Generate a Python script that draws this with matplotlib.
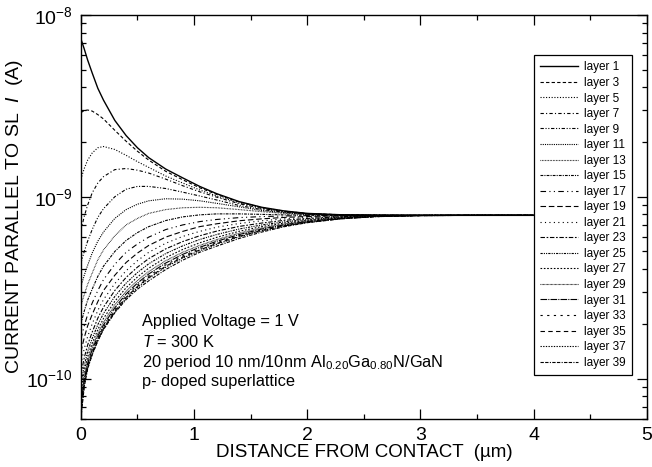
import numpy as np
import matplotlib
matplotlib.use("Agg")
import matplotlib.pyplot as plt
from matplotlib.ticker import MultipleLocator, FixedLocator, NullFormatter

plt.rcParams['font.family'] = ['Liberation Sans', 'DejaVu Sans']
plt.rcParams['mathtext.fontset'] = 'custom'
plt.rcParams['mathtext.rm'] = 'Liberation Sans'
plt.rcParams['mathtext.it'] = 'Liberation Sans:italic'
plt.rcParams['mathtext.bf'] = 'Liberation Sans:bold'
plt.rcParams['axes.unicode_minus'] = False

# distance from contact (um)
x = [0, 0.03, 0.06, 0.1, 0.15, 0.2, 0.3, 0.4, 0.5, 0.6, 0.75, 0.9,
     1.05, 1.2, 1.4, 1.6, 1.8, 2.0, 2.3, 2.6, 3.0, 3.5, 4.0]

# current in each layer, units of 1e-10 A
layer_1  = [74, 65, 56.5, 48, 39.5, 34, 26.3, 21.7, 18.6, 16.4, 14.2, 12.7,
            11.4, 10.4, 9.4, 8.75, 8.35, 8.1, 7.96, 7.92, 7.9, 7.9, 7.9]
layer_3  = [29, 29.8, 30, 29.6, 28.3, 26.8, 23.2, 20.2, 17.8, 15.9, 13.8, 12.4,
            11.2, 10.3, 9.35, 8.72, 8.33, 8.09, 7.96, 7.92, 7.9, 7.9, 7.9]
layer_5  = [12.5, 14.3, 15.9, 17.4, 18.6, 18.9, 18.2, 16.9, 15.6, 14.5, 13.0, 11.9,
            10.9, 10.1, 9.25, 8.67, 8.3, 8.07, 7.95, 7.91, 7.9, 7.9, 7.9]
layer_7  = [6.5, 7.8, 9.0, 10.5, 11.9, 12.9, 14.1, 14.3, 14.0, 13.5, 12.5, 11.5,
            10.65, 9.95, 9.15, 8.62, 8.27, 8.05, 7.95, 7.91, 7.9, 7.9, 7.9]
layer_9  = [4.3, 5.0, 5.7, 6.6, 7.7, 8.6, 10.0, 11.0, 11.4, 11.4, 11.1, 10.6,
            10.1, 9.6, 8.95, 8.5, 8.22, 8.03, 7.94, 7.91, 7.9, 7.9, 7.9]
layer_11 = [3.2, 3.7, 4.2, 4.9, 5.7, 6.4, 7.6, 8.5, 9.1, 9.5, 9.75, 9.7,
            9.5, 9.2, 8.8, 8.4, 8.17, 8.0, 7.93, 7.91, 7.9, 7.9, 7.9]
layer_13 = [2.5, 2.9, 3.3, 3.8, 4.5, 5.1, 6.1, 7.0, 7.6, 8.1, 8.5, 8.7,
            8.75, 8.7, 8.5, 8.28, 8.1, 7.98, 7.92, 7.9, 7.9, 7.9, 7.9]
layer_15 = [2.0, 2.35, 2.7, 3.1, 3.65, 4.15, 5.0, 5.75, 6.35, 6.85, 7.4, 7.75,
            7.95, 8.05, 8.05, 8.0, 7.95, 7.92, 7.9, 7.9, 7.9, 7.9, 7.9]
layer_17 = [1.65, 1.95, 2.25, 2.6, 3.05, 3.5, 4.25, 4.95, 5.5, 6.0, 6.6, 7.0,
            7.3, 7.5, 7.68, 7.78, 7.84, 7.87, 7.89, 7.9, 7.9, 7.9, 7.9]
layer_19 = [1.4, 1.68, 1.95, 2.25, 2.65, 3.05, 3.7, 4.35, 4.9, 5.4, 6.0, 6.45,
            6.85, 7.1, 7.38, 7.56, 7.7, 7.79, 7.86, 7.89, 7.9, 7.9, 7.9]
layer_21 = [1.2, 1.46, 1.7, 2.0, 2.37, 2.72, 3.33, 3.92, 4.45, 4.95, 5.55, 6.05,
            6.45, 6.8, 7.13, 7.38, 7.56, 7.7, 7.82, 7.88, 7.9, 7.9, 7.9]
layer_23 = [1.05, 1.3, 1.53, 1.8, 2.15, 2.47, 3.05, 3.6, 4.1, 4.57, 5.17, 5.67,
            6.1, 6.47, 6.87, 7.17, 7.42, 7.6, 7.77, 7.86, 7.9, 7.9, 7.9]
layer_25 = [0.93, 1.18, 1.41, 1.66, 1.98, 2.28, 2.83, 3.35, 3.83, 4.28, 4.87, 5.37,
            5.82, 6.2, 6.65, 7.0, 7.28, 7.5, 7.72, 7.84, 7.89, 7.9, 7.9]
layer_27 = [0.84, 1.1, 1.32, 1.56, 1.86, 2.14, 2.66, 3.16, 3.62, 4.05, 4.63, 5.13,
            5.58, 5.98, 6.46, 6.86, 7.17, 7.42, 7.68, 7.82, 7.89, 7.9, 7.9]
layer_29 = [0.77, 1.03, 1.26, 1.49, 1.77, 2.04, 2.54, 3.02, 3.46, 3.88, 4.45, 4.95,
            5.4, 5.81, 6.31, 6.74, 7.08, 7.36, 7.65, 7.81, 7.88, 7.9, 7.9]
layer_31 = [0.72, 0.99, 1.21, 1.44, 1.71, 1.97, 2.45, 2.92, 3.35, 3.76, 4.32, 4.82,
            5.27, 5.69, 6.2, 6.65, 7.01, 7.31, 7.62, 7.8, 7.88, 7.9, 7.9]
layer_33 = [0.68, 0.96, 1.18, 1.4, 1.67, 1.92, 2.39, 2.85, 3.27, 3.67, 4.22, 4.72,
            5.17, 5.6, 6.12, 6.58, 6.96, 7.27, 7.6, 7.79, 7.88, 7.9, 7.9]
layer_35 = [0.65, 0.94, 1.16, 1.38, 1.64, 1.89, 2.35, 2.8, 3.21, 3.6, 4.15, 4.65,
            5.1, 5.53, 6.06, 6.53, 6.92, 7.24, 7.58, 7.78, 7.88, 7.9, 7.9]
layer_37 = [0.62, 0.92, 1.14, 1.36, 1.62, 1.87, 2.32, 2.76, 3.17, 3.56, 4.1, 4.6,
            5.05, 5.48, 6.02, 6.5, 6.9, 7.22, 7.57, 7.77, 7.88, 7.9, 7.9]
layer_39 = [0.6, 0.9, 1.13, 1.35, 1.61, 1.86, 2.3, 2.72, 3.1, 3.45, 3.98, 4.48,
            4.95, 5.35, 5.9, 6.4, 6.85, 7.2, 7.56, 7.77, 7.88, 7.9, 7.9]

layers = [1, 3, 5, 7, 9, 11, 13, 15, 17, 19, 21, 23, 25, 27, 29, 31, 33, 35, 37, 39]
currents = [layer_1, layer_3, layer_5, layer_7, layer_9, layer_11, layer_13, layer_15,
            layer_17, layer_19, layer_21, layer_23, layer_25, layer_27, layer_29,
            layer_31, layer_33, layer_35, layer_37, layer_39]

# one dash pattern per layer, all black
styles = [
    '-',
    (0, (3, 2)),
    (0, (1, 1.5)),
    (0, (3, 2, 1, 2)),
    (0, (3, 1.5, 1, 1.5, 1, 1.5)),
    (0, (1, 1)),
    (0, (0.6, 0.8)),
    (0, (2.5, 1, 1, 1)),
    (0, (5, 3, 1, 3, 1, 3)),
    (0, (5, 2.5)),
    (0, (1, 3)),
    (0, (4, 1.5, 1.5, 1.5)),
    (0, (2, 1, 1, 1, 1, 1)),
    (0, (1.5, 1.5)),
    (0, (0.6, 0.6)),
    (0, (6, 1, 1, 1)),
    (0, (2, 4)),
    (0, (4, 3)),
    (0, (1.2, 1.2)),
    (0, (3, 1.2, 3, 1.2, 1, 1.2)),
]

fig = plt.figure(figsize=(6.52, 4.67), dpi=100)
ax = fig.add_axes([0.124, 0.103, 0.868, 0.865])

for n, cur, ls in zip(layers, currents, styles):
    ax.plot(x, np.array(cur) * 1e-10, color='black', linestyle=ls,
            linewidth=1.0 if n == 1 else 0.8, label='layer %d' % n)

ax.set_yscale('log')
ax.set_xlim(0, 5)
ax.set_ylim(6e-11, 1e-8)
ax.xaxis.set_major_locator(MultipleLocator(1))
ax.xaxis.set_minor_locator(MultipleLocator(0.5))
ax.yaxis.set_major_locator(FixedLocator([1e-10, 1e-9, 1e-8]))
minor_y = [m * 10.0 ** e for e in (-11, -10, -9) for m in range(2, 10)]
ax.yaxis.set_minor_locator(FixedLocator([v for v in minor_y if 6e-11 <= v < 1e-8]))
ax.yaxis.set_minor_formatter(NullFormatter())
ax.tick_params(which='both', direction='in', top=True, right=True, labelsize=14, width=0.9)
ax.tick_params(which='major', length=7, pad=6)
ax.tick_params(which='minor', length=3.5)
for s in ax.spines.values():
    s.set_linewidth(1.0)

ax.set_xlabel('DISTANCE FROM CONTACT  (\u00b5m)', fontsize=13.5, labelpad=0)
ax.set_ylabel(r'CURRENT PARALLEL TO SL  $I$  (A)', fontsize=14, labelpad=1)

fs = 11.8
ax.text(0.108, 0.240, 'Applied Voltage = 1 V', transform=ax.transAxes, fontsize=fs, va='center')
ax.text(0.108, 0.191, r'$T$ = 300 K', transform=ax.transAxes, fontsize=fs, va='center')
ax.text(0.108, 0.139, r'20 period 10 nm/10nm Al$_{0.20}$Ga$_{0.80}$N/GaN',
        transform=ax.transAxes, fontsize=fs, va='center')
ax.text(0.108, 0.092, 'p- doped superlattice', transform=ax.transAxes, fontsize=fs, va='center')

leg = ax.legend(loc='upper left', bbox_to_anchor=(0.800, 0.901), fontsize=8.5,
                frameon=True, fancybox=False, edgecolor='black', framealpha=1,
                handlelength=3.2, handletextpad=0.5, labelspacing=0.3,
                borderpad=0.55, borderaxespad=0)
leg.get_frame().set_linewidth(0.9)

fig.savefig('out.png', dpi=100)
